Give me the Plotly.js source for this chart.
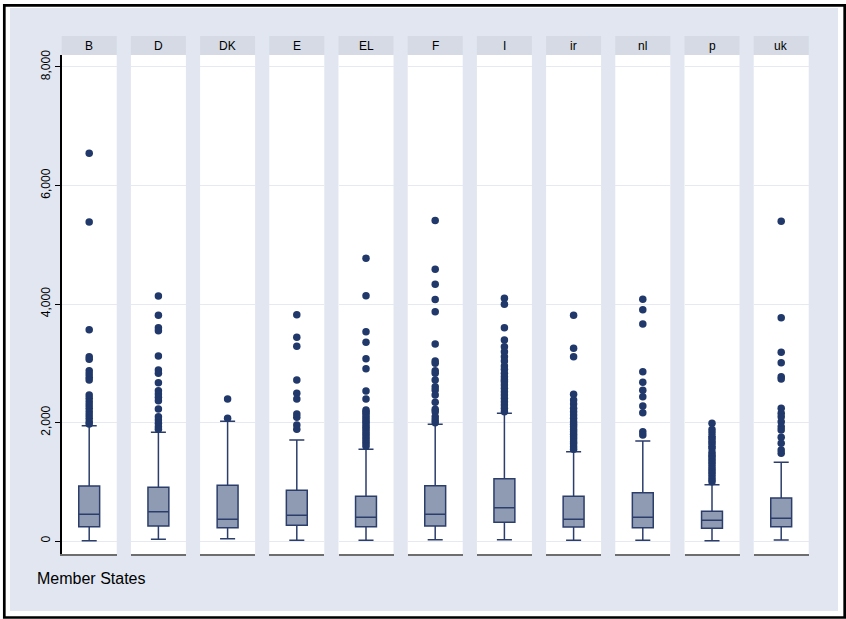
<!DOCTYPE html>
<html>
<head>
<meta charset="utf-8">
<script src="https://cdn.plot.ly/plotly-3.0.1.min.js"></script>
<style>html,body{margin:0;padding:0;background:#fff;}#chart{width:846px;height:619px;}</style>
</head>
<body>
<div id="chart"></div>
<script>
// ---- data ----
const categories = ['B','D','DK','E','EL','F','I','ir','nl','p','uk'];
const lowerWhisker = [5, 28, 39, 12, 12, 22, 22, 12, 12, 3, 17];
const q1Values     = [241, 253, 225, 265, 242, 253, 315, 236, 225, 214, 242];
const medianValues = [450, 495, 366, 434, 400, 450, 563, 366, 400, 349, 383];
const q3Values     = [928, 906, 940, 855, 754, 934, 1052, 754, 816, 501, 726];
const upperWhisker = [1946, 1835, 2020, 1705, 1547, 1970, 2155, 1508, 1688, 951, 1328];

const outB  = [6543, 5385, 3567, 3111, 3067, 2875, 2819, 2763, 2718, 2464, 2408, 2352, 2296, 2239, 2183, 2127, 2070, 2014, 1975];
const outD  = [4136, 3810, 3601, 3550, 3123, 2887, 2830, 2673, 2537, 2481, 2425, 2369, 2228, 2098, 2042, 1987, 1930, 1885];
const outDK = [2397, 2070];
const outE  = [3820, 3438, 3286, 2718, 2493, 2397, 2144, 2088, 1958, 1885];
const outEL = [4772, 4141, 3533, 3354, 3077, 2909, 2532, 2397, 2211, 2180, 2150, 2110, 2070, 2030, 2000, 1960, 1920, 1880, 1840, 1800, 1760, 1720, 1680, 1640, 1600];
const outF  = [5407, 4586, 4333, 4074, 3871, 3326, 3038, 3000, 2875, 2830, 2718, 2605, 2549, 2464, 2341, 2223, 2183, 2098, 2042, 1995];
const outI  = [4097, 3995, 3601, 3393, 3280, 3196, 3111, 3040, 2954, 2900, 2830, 2774, 2720, 2689, 2633, 2580, 2520, 2464, 2408, 2352, 2296, 2239, 2183];
const outIr = [3810, 3252, 3111, 2476, 2380, 2313, 2239, 2180, 2127, 2070, 2014, 1970, 1930, 1880, 1846, 1800, 1761, 1720, 1677, 1640, 1592, 1550];
const outNl = [4080, 3905, 3663, 2858, 2678, 2544, 2436, 2279, 2166, 1846, 1790];
const outP  = [1987, 1880, 1829, 1770, 1734, 1690, 1649, 1600, 1565, 1500, 1450, 1423, 1380, 1339, 1300, 1254, 1210, 1170, 1130, 1085, 1040, 1000];
const outUk = [5396, 3770, 3185, 3010, 2774, 2735, 2239, 2155, 2098, 2014, 1930, 1874, 1750, 1649, 1536, 1480];

const yTickVals = [0, 2000, 4000, 6000, 8000];
const yTickText = ['0', '2,000', '4,000', '6,000', '8,000'];
const xAxisTitle = 'Member States';

const outliers = [outB, outD, outDK, outE, outEL, outF, outI, outIr, outNl, outP, outUk];

// ---- layout geometry (pixels) ----
const W = 846, H = 619;
const panelLeft0 = 61.7, panelStep = 69.2, panelW = 55;
const panelTop = 55, panelBottom = 554, stripTop = 36;
const fx = px => px / W;
const fy = py => 1 - py / H;
const yRange = [-219, 8202];

const FONT = 'Arial, "Liberation Sans", Helvetica, sans-serif';
const BOX_FILL = '#8f9ab3', BOX_LINE = '#2b3d6b', MARK = '#21386a';
const STRIP = '#d5dae4', BG = '#e1e6f0', GRID = '#e6e9f0';

const traces = [];
const layout = {
  width: W, height: H,
  margin: {l: 0, r: 0, t: 0, b: 0},
  paper_bgcolor: BG,
  plot_bgcolor: '#ffffff',
  showlegend: false,
  font: {family: FONT, color: '#000'},
  shapes: [],
  annotations: []
};

categories.forEach((cat, i) => {
  const sfx = i === 0 ? '' : String(i + 1);
  const xa = 'x' + sfx, ya = 'y' + sfx;
  const left = panelLeft0 + i * panelStep;
  layout['xaxis' + sfx] = {
    domain: [fx(left), fx(left + panelW)],
    anchor: ya,
    range: [-0.5, 0.5],
    showgrid: false, zeroline: false,
    showticklabels: false, ticks: '',
    showline: true, linecolor: '#6e6e6e', linewidth: 2,
    fixedrange: true
  };
  layout['yaxis' + sfx] = {
    domain: [fy(panelBottom), fy(panelTop)],
    anchor: xa,
    range: yRange,
    tickvals: yTickVals, ticktext: yTickText,
    showgrid: true, gridcolor: GRID, gridwidth: 1,
    zeroline: false,
    showticklabels: i === 0,
    ticks: i === 0 ? 'outside' : '',
    ticklen: 5, tickcolor: '#000', tickwidth: 1,
    tickangle: -90,
    tickfont: {size: 12, color: '#000', family: FONT},
    showline: i === 0, linecolor: '#000', linewidth: 1.5,
    fixedrange: true
  };
  traces.push({
    type: 'box',
    x: [0],
    q1: [q1Values[i]], median: [medianValues[i]], q3: [q3Values[i]],
    lowerfence: [lowerWhisker[i]], upperfence: [upperWhisker[i]],
    width: 0.38, whiskerwidth: 0.72,
    fillcolor: BOX_FILL,
    line: {color: BOX_LINE, width: 1.5},
    boxpoints: false,
    xaxis: xa, yaxis: ya,
    hoverinfo: 'skip'
  });
  traces.push({
    type: 'scatter', mode: 'markers',
    x: outliers[i].map(() => 0), y: outliers[i],
    marker: {color: MARK, size: 7.5, line: {width: 0}},
    xaxis: xa, yaxis: ya,
    hoverinfo: 'skip'
  });
  // strip header
  layout.shapes.push({
    type: 'rect', xref: 'paper', yref: 'paper', layer: 'above',
    x0: fx(left), x1: fx(left + panelW), y0: fy(panelTop), y1: fy(stripTop),
    fillcolor: STRIP, line: {width: 0}
  });
  layout.annotations.push({
    xref: 'paper', yref: 'paper',
    x: fx(left + panelW / 2), y: fy((stripTop + panelTop) / 2),
    xanchor: 'center', yanchor: 'middle',
    text: cat, showarrow: false,
    font: {size: 12, color: '#000', family: FONT}
  });
});

// white margin + black frame
layout.shapes.push(
  {type: 'rect', xref: 'paper', yref: 'paper', x0: 0, x1: fx(10), y0: 0, y1: 1, fillcolor: '#fff', line: {width: 0}, layer: 'above'},
  {type: 'rect', xref: 'paper', yref: 'paper', x0: fx(838), x1: 1, y0: 0, y1: 1, fillcolor: '#fff', line: {width: 0}, layer: 'above'},
  {type: 'rect', xref: 'paper', yref: 'paper', x0: 0, x1: 1, y0: fy(8), y1: 1, fillcolor: '#fff', line: {width: 0}, layer: 'above'},
  {type: 'rect', xref: 'paper', yref: 'paper', x0: 0, x1: 1, y0: 0, y1: fy(611), fillcolor: '#fff', line: {width: 0}, layer: 'above'},
  {type: 'rect', xref: 'paper', yref: 'paper', x0: fx(4.3), x1: fx(844.7), y0: fy(617.5), y1: fy(5.3), fillcolor: 'rgba(0,0,0,0)', line: {color: '#000', width: 2.7}, layer: 'above'}
);

layout.annotations.push({
  xref: 'paper', yref: 'paper',
  x: fx(35), y: fy(578),
  xanchor: 'left', yanchor: 'middle',
  text: xAxisTitle, showarrow: false,
  font: {size: 16, color: '#000', family: FONT}
});

Plotly.newPlot('chart', traces, layout, {displayModeBar: false, staticPlot: true});
</script>
</body>
</html>
